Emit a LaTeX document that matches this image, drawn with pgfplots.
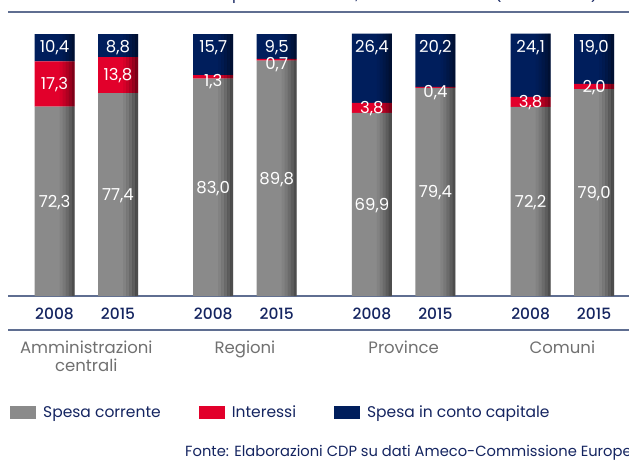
\documentclass[border=0pt]{standalone}
\usepackage{fontspec}
\setmainfont{Poppins}
\IfFontExistsTF{Poppins Medium}{\newfontfamily\pmed{Poppins Medium}}{\newfontfamily\pmed{Poppins}}
\usepackage{pgfplots}
\usepackage{pgfplotstable}
\pgfplotsset{compat=1.18}

\definecolor{cgrey}{RGB}{138,138,138}
\definecolor{cred}{RGB}{226,0,43}
\definecolor{cnavy}{RGB}{0,30,92}
\definecolor{ctext}{RGB}{20,36,96}
\definecolor{cline}{RGB}{95,110,145}
\definecolor{cglab}{RGB}{112,112,112}

\newcommand\fs{\fontsize{15.5pt}{18pt}\selectfont}
\newcommand\fg{\fontsize{16.5pt}{19pt}\selectfont}
\newcommand\fl{\fontsize{16.5pt}{18pt}\selectfont}
\newcommand\fsrc{\fontsize{14.7pt}{17pt}\selectfont}

% spesa corrente, interessi, spesa in conto capitale (% del totale)
\pgfplotstableread{
x   corr int  cap
0   72.3 17.3 10.4
1   77.4 13.8 8.8
2.5 83.0 1.3  15.7
3.5 89.8 0.7  9.5
5   69.9 3.8  26.4
6   79.4 0.4  20.2
7.5 72.2 3.8  24.1
8.5 79.0 2.0  19.0
}\data

\pgfplotsset{base/.style={at={(8pt,-296pt)}, anchor=south west,
    scale only axis, width=621pt, height=262pt,
    xmin=-0.733, xmax=9.05, ymin=0, ymax=100, clip=false}}

\begin{document}
\begin{tikzpicture}
\useasboundingbox (0,0) rectangle (629pt,-461pt);
% title line, cut by the top edge as in the source
\node[anchor=base east, font=\fs, text=ctext, inner sep=0pt] at (598pt,0.8pt)
  {Struttura delle uscite per sottosettore, anni 2008 e 2015 (\% del totale)};
\draw[cline, line width=1.3pt] (8pt,-12pt) -- (640pt,-12pt);
\draw[cline, line width=1.3pt] (8pt,-330pt) -- (640pt,-330pt);

% bars
\begin{axis}[base,
    ybar stacked, bar width=40pt,
    axis x line*=bottom, axis y line=none,
    x axis line style={draw=cline, line width=1.3pt, -},
    xtick={0,1,2.5,3.5,5,6,7.5,8.5},
    xticklabels={2008,2015,2008,2015,2008,2015,2008,2015},
    major tick length=0pt,
    xticklabel style={font=\pmed\fs, text=ctext, anchor=base, yshift=-23pt, inner sep=0pt},
    legend columns=3,
    legend style={draw=none, fill=none, at={(rel axis cs:0,0)}, anchor=west,
      xshift=2pt, yshift=-116.5pt, font=\fs, text=ctext, inner sep=0pt,
      /tikz/every odd column/.append style={column sep=5pt},
      /tikz/every even column/.append style={column sep=36pt}},
  ]
\addplot[fill=cgrey, draw=none,
  legend image code/.code={\fill[cgrey] (0pt,-6.5pt) rectangle (26pt,6.5pt);}]
  table[x=x, y=corr]{\data};
\addlegendentry{Spesa corrente}
\addplot[fill=cred, draw=none,
  legend image code/.code={\fill[cred] (0pt,-6.5pt) rectangle (26pt,6.5pt);}]
  table[x=x, y=int]{\data};
\addlegendentry{Interessi}
\addplot[fill=cnavy, draw=none,
  legend image code/.code={\fill[cnavy] (0pt,-6.5pt) rectangle (26pt,6.5pt);}]
  table[x=x, y=cap]{\data};
\addlegendentry{Spesa in conto capitale}

\node[font=\fg, text=cglab, anchor=base] at (axis cs:0.5,0) [yshift=-57pt] {Amministrazioni};
\node[font=\fg, text=cglab, anchor=base] at (axis cs:0.5,0) [yshift=-75pt] {centrali};
\node[font=\fg, text=cglab, anchor=base] at (axis cs:3,0) [yshift=-57pt] {Regioni};
\node[font=\fg, text=cglab, anchor=base] at (axis cs:5.5,0) [yshift=-57pt] {Province};
\node[font=\fg, text=cglab, anchor=base] at (axis cs:8,0) [yshift=-57pt] {Comuni};
\end{axis}

% darker strip on the right side of each bar
\begin{axis}[base, hide axis, ybar, bar width=3pt]
\addplot[fill=black, fill opacity=0.05, draw=none, bar shift=6.5pt]
  table[x=x, y expr=\thisrow{corr}+\thisrow{int}+\thisrow{cap}]{\data};
\addplot[fill=black, fill opacity=0.13, draw=none, bar shift=9.5pt]
  table[x=x, y expr=\thisrow{corr}+\thisrow{int}+\thisrow{cap}]{\data};
\addplot[fill=black, fill opacity=0.22, draw=none, bar shift=12.5pt]
  table[x=x, y expr=\thisrow{corr}+\thisrow{int}+\thisrow{cap}]{\data};
\addplot[fill=black, fill opacity=0.32, draw=none, bar shift=15.5pt]
  table[x=x, y expr=\thisrow{corr}+\thisrow{int}+\thisrow{cap}]{\data};
\addplot[fill=black, fill opacity=0.44, draw=none, bar shift=18.5pt]
  table[x=x, y expr=\thisrow{corr}+\thisrow{int}+\thisrow{cap}]{\data};
\end{axis}

% value labels (stacked nodes sit in the middle of each segment)
\begin{axis}[base, hide axis, ybar stacked, bar width=40pt,
    nodes near coords,
    point meta=rawy,
    visualization depends on=rawy \as \rawy,
    /pgf/number format/fixed,
    /pgf/number format/fixed zerofill,
    /pgf/number format/precision=1,
    /pgf/number format/use comma,
    /pgf/number format/assume math mode=true,
  ]
\addplot[draw=none, fill=none,
  every node near coord/.style={font=\fl, text=white, inner sep=0pt, anchor=base, yshift=-5.8pt}]
  table[x=x, y=corr]{\data};
\addplot[draw=none, fill=none,
  every node near coord/.style={font=\fl, text=white, inner sep=0pt, anchor=base,
    yshift={-5.8pt-4pt*(\rawy<1.5)}}]
  table[x=x, y=int]{\data};
\addplot[draw=none, fill=none,
  every node near coord/.style={font=\fl, text=white, inner sep=0pt, anchor=base,
    shift={(axis direction cs:0,\rawy/2)}, yshift=-18.5pt}]
  table[x=x, y=cap]{\data};
\end{axis}

\node[anchor=base west, font=\fsrc, text=ctext, inner sep=0pt] at (185pt,-456pt)
  {Fonte: Elaborazioni CDP su dati Ameco-Commissione Europea};
\end{tikzpicture}
\end{document}
